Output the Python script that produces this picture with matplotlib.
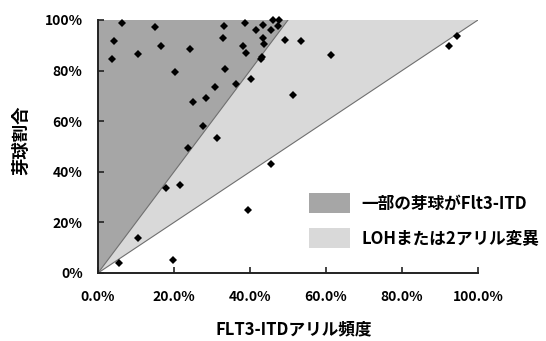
import numpy as np
import matplotlib.pyplot as plt
from matplotlib.patches import Patch
from matplotlib.ticker import FuncFormatter

plt.rcParams['font.family'] = ['Noto Sans CJK JP', 'DejaVu Sans']
plt.rcParams['font.weight'] = 'bold'

# FLT3-ITD allele frequency (%) vs blast fraction (%)
allele_freq = [6.4, 15.0, 4.2, 16.6, 24.3, 10.5, 3.6, 20.3, 28.3, 33.2,
               38.8, 43.4, 46.1, 47.5, 47.3, 41.6, 45.4, 32.8, 43.4, 43.7,
               49.2, 53.5, 38.2, 38.9, 43.1, 43.0, 33.4, 40.2, 36.2, 30.7,
               51.4, 25.1, 27.7, 31.3, 23.6, 17.9, 21.5, 45.6, 39.5, 10.4,
               5.6, 19.8, 61.3, 94.6, 92.4]
blast_ratio = [98.7, 97.4, 91.7, 89.7, 88.7, 86.7, 84.5, 79.4, 69.1, 97.8,
               98.7, 98.2, 100.0, 100.0, 97.7, 96.1, 96.1, 93.0, 92.8, 90.6,
               91.9, 91.8, 89.7, 87.1, 85.5, 84.5, 80.6, 76.5, 74.7, 73.4,
               70.2, 67.5, 58.3, 53.2, 49.3, 33.5, 34.9, 43.1, 24.8, 14.0,
               3.9, 5.1, 86.2, 93.7, 89.7]

# regions: some blasts carry Flt3-ITD (y > 2x) / LOH or biallelic (x < y < 2x)
part_x = [0, 0, 50]
part_y = [0, 100, 100]
loh_x = [0, 50, 100]
loh_y = [0, 100, 100]

labels = ['一部の芽球がFlt3-ITD', 'LOHまたは2アリル変異']
dark = '#a6a6a6'
light = '#d9d9d9'

fig = plt.figure(figsize=(5.46, 3.41), dpi=100)
ax = fig.add_axes([98/546, 1-273/341, 380/546, 253/341])

ax.fill(loh_x, loh_y, color=light, lw=0, zorder=1)
ax.fill(part_x, part_y, color=dark, lw=0, zorder=1)
ax.plot([part_x[0], part_x[2]], [part_y[0], part_y[2]], color='#6f6f6f', lw=0.8, zorder=2)
ax.plot([loh_x[0], loh_x[2]], [loh_y[0], loh_y[2]], color='#6f6f6f', lw=0.8, zorder=2)

ax.plot(allele_freq, blast_ratio, 'D', color='black', ms=4, mew=0, zorder=3, clip_on=False)

ax.set_xlim(0, 100)
ax.set_ylim(0, 100)
ax.set_xticks(np.arange(0, 101, 20))
ax.set_yticks(np.arange(0, 101, 20))
ax.xaxis.set_major_formatter(FuncFormatter(lambda v, p: f'{v:.1f}%'))
ax.yaxis.set_major_formatter(FuncFormatter(lambda v, p: f'{v:.0f}%'))
ax.tick_params(direction='in', length=4, width=1.2, labelsize=10, color='#222222')
ax.tick_params(axis='x', pad=12)
ax.tick_params(axis='y', pad=11)
for s in ['top', 'right']:
    ax.spines[s].set_visible(False)
for s in ['left', 'bottom']:
    ax.spines[s].set_linewidth(1.4)
    ax.spines[s].set_color('#222222')

handles = [Patch(facecolor=dark, edgecolor='none'), Patch(facecolor=light, edgecolor='none')]
fig.legend(handles, labels, loc='center left', bbox_to_anchor=(309/546, 1-220.5/341),
           frameon=False, fontsize=12, handlelength=2.45, handleheight=1.5,
           handletextpad=0.7, labelspacing=0.85, borderpad=0, borderaxespad=0)

fig.text(21/546, 1-140/341, '芽球割合', rotation=90, ha='center', va='center', fontsize=12.5)
fig.text(294/546, 1-329/341, 'FLT3-ITDアリル頻度', ha='center', va='center', fontsize=12)

fig.savefig('out.png', dpi=100)
